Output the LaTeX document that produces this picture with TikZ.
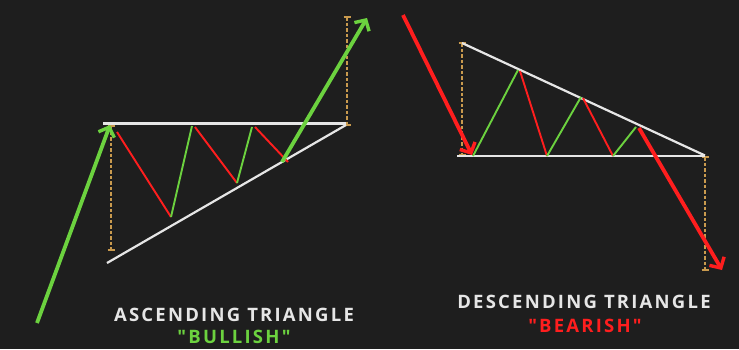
\documentclass[tikz,border=0pt]{standalone}
\usepackage{fontspec}
\setmainfont{Open Sans}
\newfontfamily\labelfont[LetterSpace=12]{Open Sans}
\usetikzlibrary{arrows.meta}
\definecolor{bg}{HTML}{1E1E1E}
\definecolor{upgreen}{HTML}{6CD23F}
\definecolor{downred}{HTML}{FF1E1E}
\definecolor{guide}{HTML}{C99A4E}
\definecolor{trend}{HTML}{E6E6E6}
\tikzset{
  trendline/.style={draw=trend, line width=2.2pt},
  upleg/.style={draw=upgreen, line width=1.9pt},
  downleg/.style={draw=downred, line width=1.9pt},
  bigup/.style={draw=upgreen, line width=3.8pt, -{Straight Barb[length=8pt,width=17pt,line width=3.4pt]}},
  bigdown/.style={draw=downred, line width=3.8pt, -{Straight Barb[length=8pt,width=17pt,line width=3.4pt]}},
  guideline/.style={draw=guide, line width=2pt, dash pattern=on 3.5pt off 2pt},
  guidecap/.style={draw=guide, line width=1.8pt},
  title/.style={font=\labelfont\bfseries\fontsize{18.5}{21}\selectfont, text=trend, inner sep=0pt, anchor=center},
  verdict/.style={font=\labelfont\bfseries\fontsize{18.5}{21}\selectfont, inner sep=0pt, anchor=center}
}
\begin{document}
\begin{tikzpicture}[x=1pt,y=-1pt]
\fill[bg] (0,0) rectangle (739,349);
\useasboundingbox (0,0) rectangle (739,349);
% ---------- Ascending triangle ----------
\coordinate (aTL) at (103,123.5);
\coordinate (aTR) at (346,123.5);
\coordinate (aBL) at (107,263);
\coordinate (aBR) at (346,125);
\coordinate (aGt) at (111,126);
\coordinate (aGb) at (111,250);
\coordinate (aHt) at (347,17);
\coordinate (aHb) at (347,125);
\coordinate (aS) at (37,323);
\coordinate (aP) at (110,125);
\coordinate (a1) at (117,132);
\coordinate (a2) at (171,217);
\coordinate (a3) at (192,126);
\coordinate (a4) at (195,127);
\coordinate (a5) at (237,183);
\coordinate (a6) at (252,127);
\coordinate (a7) at (255,127);
\coordinate (a8) at (288,162);
\coordinate (a9) at (282,162);
\coordinate (aE) at (367,18);
\draw[guideline] (aGt) -- (aGb);
\draw[guidecap] ([xshift=-3.5pt]aGt) -- ([xshift=3.5pt]aGt);
\draw[guidecap] ([xshift=-3.5pt]aGb) -- ([xshift=3.5pt]aGb);
\draw[guideline] (aHt) -- (aHb);
\draw[guidecap] ([xshift=-3.5pt]aHt) -- ([xshift=3.5pt]aHt);
\draw[guidecap] ([xshift=-3.5pt]aHb) -- ([xshift=3.5pt]aHb);
\draw[trendline] (aTL) -- (aTR);
\draw[trendline] (aBL) -- (aBR);
\draw[downleg] (a1) -- (a2);
\draw[upleg] (a2) -- (a3);
\draw[downleg] (a4) -- (a5);
\draw[upleg] (a5) -- (a6);
\draw[downleg] (a7) -- (a8);
\draw[bigup] (aS) -- (aP);
\draw[bigup] (a9) -- (aE);
\node[title] (aT) at (234,315) {ASCENDING TRIANGLE};
\node[verdict, text=upgreen] (aV) at (234,337) {"BULLISH"};
% ---------- Descending triangle ----------
\coordinate (dTL) at (462,43);
\coordinate (dTR) at (705,155.5);
\coordinate (dBL) at (457,156);
\coordinate (dBR) at (705,156);
\coordinate (dGt) at (462,43);
\coordinate (dGb) at (462,155);
\coordinate (dHt) at (705,157);
\coordinate (dHb) at (705,270);
\coordinate (dS) at (403,15);
\coordinate (dP) at (472,155);
\coordinate (d1) at (473,156);
\coordinate (d2) at (518,70);
\coordinate (d3) at (520,71);
\coordinate (d4) at (547,156);
\coordinate (d5) at (581,97);
\coordinate (d6) at (583,98);
\coordinate (d7) at (613,156);
\coordinate (d8) at (636,127);
\coordinate (d9) at (639,128);
\coordinate (dE) at (722,270);
\draw[guideline] (dGt) -- (dGb);
\draw[guidecap] ([xshift=-3.5pt]dGt) -- ([xshift=3.5pt]dGt);
\draw[guidecap] ([xshift=-3.5pt]dGb) -- ([xshift=3.5pt]dGb);
\draw[guideline] (dHt) -- (dHb);
\draw[guidecap] ([xshift=-3.5pt]dHt) -- ([xshift=3.5pt]dHt);
\draw[guidecap] ([xshift=-3.5pt]dHb) -- ([xshift=3.5pt]dHb);
\draw[trendline] (dTL) -- (dTR);
\draw[trendline] (dBL) -- (dBR);
\draw[upleg] (d1) -- (d2);
\draw[downleg] (d3) -- (d4);
\draw[upleg] (d4) -- (d5);
\draw[downleg] (d6) -- (d7);
\draw[upleg] (d7) -- (d8);
\draw[bigdown] (dS) -- (dP);
\draw[bigdown] (d9) -- (dE);
\node[title] (dT) at (584,302) {DESCENDING TRIANGLE};
\node[verdict, text=downred] (dV) at (585,326) {"BEARISH"};
\end{tikzpicture}
\end{document}
